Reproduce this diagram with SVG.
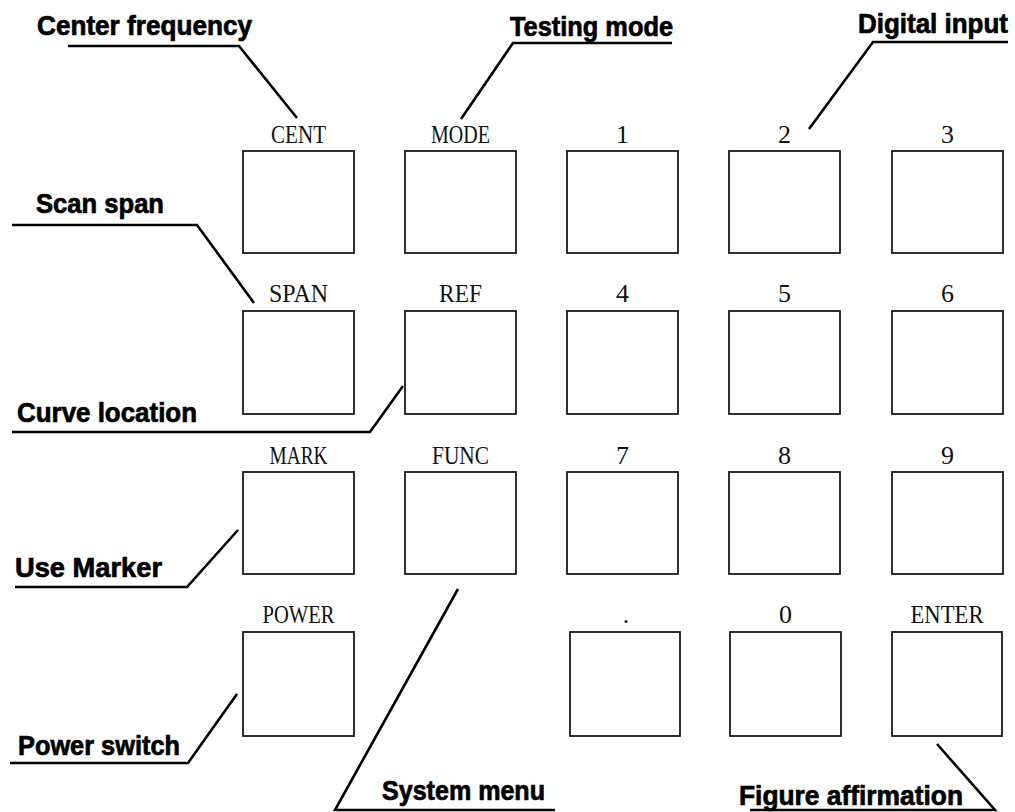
<svg xmlns="http://www.w3.org/2000/svg" width="1015" height="812" viewBox="0 0 1015 812">
<style>
.key{fill:#fff;stroke:#1a1a1a;stroke-width:1.8}
.lbl{font-family:"Liberation Serif","Times New Roman",serif;font-size:26px;fill:#111;text-anchor:middle}
.call{font-family:"Liberation Sans",Arial,sans-serif;font-weight:bold;font-size:27px;fill:#000;stroke:#000;stroke-width:0.7}
.lead{fill:none;stroke:#000;stroke-width:2.6;stroke-linejoin:miter}
</style>
<rect width="1015" height="812" fill="#fff"/>
<g id="key-cent"><rect class="key" x="243" y="151" width="111" height="102"/><text class="lbl" x="298.5" y="143" textLength="55" lengthAdjust="spacingAndGlyphs">CENT</text></g>
<g id="key-mode"><rect class="key" x="405" y="151" width="111" height="102"/><text class="lbl" x="460.5" y="143" textLength="59" lengthAdjust="spacingAndGlyphs">MODE</text></g>
<g id="key-1"><rect class="key" x="567" y="151" width="111" height="102"/><text class="lbl" x="622.5" y="143">1</text></g>
<g id="key-2"><rect class="key" x="729" y="151" width="111" height="102"/><text class="lbl" x="784.5" y="143">2</text></g>
<g id="key-3"><rect class="key" x="892" y="151" width="111" height="102"/><text class="lbl" x="947.5" y="143">3</text></g>

<g id="key-span"><rect class="key" x="243" y="311" width="111" height="103"/><text class="lbl" x="298.5" y="302" textLength="59" lengthAdjust="spacingAndGlyphs">SPAN</text></g>
<g id="key-ref"><rect class="key" x="405" y="311" width="111" height="103"/><text class="lbl" x="460.5" y="302" textLength="43" lengthAdjust="spacingAndGlyphs">REF</text></g>
<g id="key-4"><rect class="key" x="567" y="311" width="111" height="103"/><text class="lbl" x="622.5" y="302">4</text></g>
<g id="key-5"><rect class="key" x="729" y="311" width="111" height="103"/><text class="lbl" x="784.5" y="302">5</text></g>
<g id="key-6"><rect class="key" x="892" y="311" width="111" height="103"/><text class="lbl" x="947.5" y="302">6</text></g>

<g id="key-mark"><rect class="key" x="243" y="472" width="111" height="102"/><text class="lbl" x="298.5" y="464" textLength="58" lengthAdjust="spacingAndGlyphs">MARK</text></g>
<g id="key-func"><rect class="key" x="405" y="472" width="111" height="102"/><text class="lbl" x="460.5" y="464" textLength="57" lengthAdjust="spacingAndGlyphs">FUNC</text></g>
<g id="key-7"><rect class="key" x="567" y="472" width="111" height="102"/><text class="lbl" x="622.5" y="464">7</text></g>
<g id="key-8"><rect class="key" x="729" y="472" width="111" height="102"/><text class="lbl" x="784.5" y="464">8</text></g>
<g id="key-9"><rect class="key" x="892" y="472" width="111" height="102"/><text class="lbl" x="947.5" y="464">9</text></g>

<g id="key-power"><rect class="key" x="243" y="632" width="111" height="104"/><text class="lbl" x="298.5" y="623" textLength="72" lengthAdjust="spacingAndGlyphs">POWER</text></g>
<g id="key-dot"><rect class="key" x="570" y="632" width="110" height="104"/><text class="lbl" x="626" y="623">.</text></g>
<g id="key-0"><rect class="key" x="730" y="632" width="111" height="104"/><text class="lbl" x="785.5" y="623">0</text></g>
<g id="key-enter"><rect class="key" x="892" y="632" width="110" height="104"/><text class="lbl" x="947" y="623" textLength="73" lengthAdjust="spacingAndGlyphs">ENTER</text></g>

<g id="callout-center-frequency"><text class="call" x="37" y="35" textLength="215" lengthAdjust="spacingAndGlyphs">Center frequency</text></g>
<g id="callout-testing-mode"><text class="call" x="510" y="36" textLength="163" lengthAdjust="spacingAndGlyphs">Testing mode</text></g>
<g id="callout-digital-input"><text class="call" x="858" y="33" textLength="150" lengthAdjust="spacingAndGlyphs">Digital input</text></g>
<g id="callout-scan-span"><text class="call" x="36" y="213" textLength="128" lengthAdjust="spacingAndGlyphs">Scan span</text></g>
<g id="callout-curve-location"><text class="call" x="17" y="422" textLength="180" lengthAdjust="spacingAndGlyphs">Curve location</text></g>
<g id="callout-use-marker"><text class="call" x="15" y="577" textLength="147" lengthAdjust="spacingAndGlyphs">Use Marker</text></g>
<g id="callout-power-switch"><text class="call" x="18" y="755" textLength="162" lengthAdjust="spacingAndGlyphs">Power switch</text></g>
<g id="callout-system-menu"><text class="call" x="382" y="800" textLength="163" lengthAdjust="spacingAndGlyphs">System menu</text></g>
<g id="callout-figure-affirmation"><text class="call" x="739" y="805" textLength="224" lengthAdjust="spacingAndGlyphs">Figure affirmation</text></g>

<g id="connectors">
<polyline class="lead" points="68,46 239,46 297,118"/>
<polyline class="lead" points="672,43 513,43 461,119"/>
<polyline class="lead" points="1008,42 873,42 809,129"/>
<polyline class="lead" points="12,225 197,225 254,303"/>
<polyline class="lead" points="12,432 370,432 403,386"/>
<polyline class="lead" points="15,587 187,587 238,530"/>
<polyline class="lead" points="10,763 188,763 237,694"/>
<polyline class="lead" points="555,810 335,810 458,589"/>
<polyline class="lead" points="750,810 995,810 937,744"/>
</g>
</svg>
